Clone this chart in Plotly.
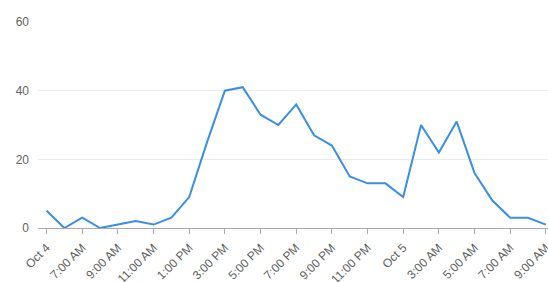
import plotly.graph_objects as go

hours = list(range(29))
values = [5, 0, 3, 0, 1, 2, 1, 3, 9, 25, 40, 41, 33, 30, 36, 27, 24, 15, 13, 13, 9, 30, 22, 31, 16, 8, 3, 3, 1]
tick_positions = [0, 2, 4, 6, 8, 10, 12, 14, 16, 18, 20, 22, 24, 26, 28]
tick_labels = ["Oct 4", "7:00 AM", "9:00 AM", "11:00 AM", "1:00 PM", "3:00 PM", "5:00 PM",
               "7:00 PM", "9:00 PM", "11:00 PM", "Oct 5", "3:00 AM", "5:00 AM", "7:00 AM", "9:00 AM"]
y_ticks = [0, 20, 40, 60]

fig = go.Figure()
fig.add_trace(go.Scatter(x=hours, y=values, mode="lines",
                         line=dict(color="#3a8ee6", width=2), hoverinfo="skip"))

fig.update_layout(
    width=548, height=282,
    margin=dict(l=38, r=0, t=22, b=54, autoexpand=False),
    paper_bgcolor="white", plot_bgcolor="white",
    showlegend=False,
    font=dict(family="Liberation Sans, Arial, sans-serif", size=12, color="#5f5f5f"),
    xaxis=dict(range=[-0.48, 28.12], tickmode="array", tickvals=tick_positions,
               ticktext=tick_labels, tickangle=-45, showgrid=False, zeroline=False,
               showline=True, linecolor="#aaa", linewidth=1,
               ticks="outside", ticklen=5, tickcolor="#aaa", fixedrange=True,
               ticklabeloverflow="allow", ticklabelstandoff=2, automargin=False),
    yaxis=dict(range=[0, 60], tickmode="array", tickvals=y_ticks, showgrid=True,
               gridcolor="#ebebeb", gridwidth=1, zeroline=False, showline=False,
               ticks="", ticklabelstandoff=8, fixedrange=True, automargin=False),
)

fig.write_html("out.html")
